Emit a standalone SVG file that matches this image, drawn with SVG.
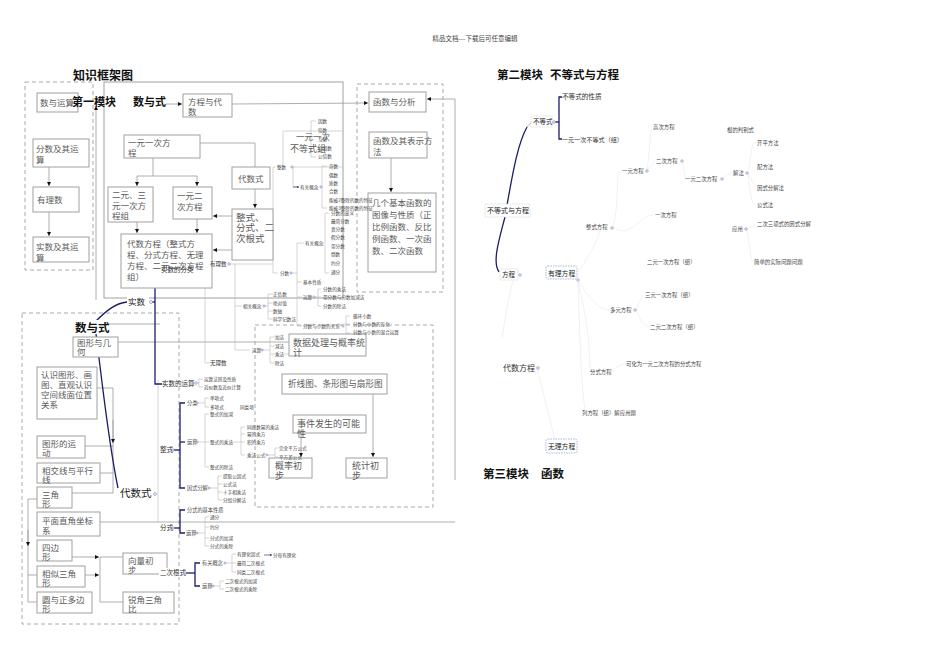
<svg xmlns="http://www.w3.org/2000/svg" width="950" height="672" viewBox="0 0 950 672">
<style>
text{font-family:"Noto Sans CJK SC","Noto Sans",sans-serif}
.bx{fill:#fff;stroke:#a0a0a0;stroke-width:1}
.db{fill:none;stroke:#aaa;stroke-width:1;stroke-dasharray:4 3}
.ln{stroke:#999;fill:none;stroke-width:0.8}
.lg{stroke:#bbb;fill:none;stroke-width:0.6}
.lf{stroke:#eee;fill:none;stroke-width:0.8}
.ar{marker-end:url(#ah)}
.sa{marker-end:url(#sm)}
.nv{stroke:#1c1c6b;fill:none;stroke-width:1.3}
.bt{font-size:8.5px;fill:#5a5a5a}
.sl{font-size:4.6px;fill:#444}
.ml{font-size:6.5px;fill:#333}
.rl{font-size:5.4px;fill:#444}
.h{font-weight:bold;fill:#111}
.ci{fill:#fff;stroke:#8888bb;stroke-width:0.7}
</style>
<defs>
<marker id="ah" viewBox="0 0 10 10" refX="10" refY="5" markerWidth="5" markerHeight="5" orient="auto"><path d="M0,0L10,5L0,10z" fill="#111"/></marker>
<marker id="sm" viewBox="0 0 10 10" refX="10" refY="5" markerWidth="3" markerHeight="3" orient="auto"><path d="M0,0L10,5L0,10z" fill="#1c1c6b"/></marker>
</defs>
<rect width="950" height="672" fill="#fff"/>
<text x="475" y="41" text-anchor="middle" style="font-size:6.5px;fill:#444">精品文档---下载后可任意编辑</text>
<text x="73" y="80" class="h" style="font-size:12px">知识框架图</text>

<!-- containers -->
<rect class="db" x="25" y="82" width="68" height="188"/>
<rect x="104" y="82" width="239" height="216" fill="none" stroke="#a0a0a0"/>
<rect class="db" x="357" y="84" width="86" height="208"/>
<rect class="db" x="255" y="325" width="178" height="182"/>
<rect class="db" x="22" y="313" width="157" height="311"/>

<g id="connectors">
<line class="ln ar" x1="49" y1="167" x2="49" y2="186"/>
<line class="ln ar" x1="49" y1="212" x2="49" y2="236"/>
<line class="ln ar" x1="96" y1="300" x2="96" y2="106"/>
<line class="ln ar" x1="166" y1="104" x2="182" y2="104"/>
<line class="ln ar" x1="232" y1="104" x2="368" y2="103"/>
<polyline class="ln" points="455,480 455,99"/>
<line class="ln ar" x1="455" y1="99" x2="427" y2="99"/>
<line class="ln ar" x1="391" y1="158" x2="391" y2="192"/>
<polyline class="ln" points="200,143 255,143 255,167"/>
<polyline class="ln" points="153,158 153,176"/>
<line class="ln" x1="137" y1="176" x2="197" y2="176"/>
<line class="ln ar" x1="137" y1="176" x2="137" y2="186"/>
<line class="ln ar" x1="197" y1="176" x2="197" y2="186"/>
<line class="ln ar" x1="137" y1="222" x2="137" y2="233"/>
<line class="ln ar" x1="197" y1="219" x2="197" y2="233"/>
<line class="ln ar" x1="255" y1="189" x2="255" y2="208"/>
<line class="ln ar" x1="232" y1="216" x2="213" y2="216"/>
<line class="ln ar" x1="232" y1="250" x2="213" y2="250"/>
<line class="ln ar" x1="373" y1="394" x2="373" y2="457"/>
<line class="ln ar" x1="301" y1="433" x2="301" y2="457"/>
<!-- geometry -->
<polyline class="ln" points="97,388 113,388 113,493 72,493"/>
<line class="ln ar" x1="113" y1="420" x2="113" y2="443"/>
<line class="ln" x1="85" y1="446" x2="113" y2="446"/>
<line class="ln" x1="100" y1="473" x2="113" y2="473"/>
<polyline class="ln" points="37,499 28,499 28,602 37,602"/>
<line class="ln ar" x1="28" y1="530" x2="28" y2="546"/>
<line class="ln" x1="28" y1="575" x2="37" y2="575"/>
<line class="ln ar" x1="72" y1="557" x2="99" y2="557"/>
<line class="ln ar" x1="85" y1="575" x2="99" y2="575"/>
<polyline class="ln" points="123,557 100,557 100,602 123,602"/>
<line class="ln" x1="106" y1="324" x2="160" y2="324"/>
<line class="ln" x1="118" y1="342" x2="289" y2="342"/>
<line class="ln" x1="100" y1="522" x2="455" y2="522"/>
<line class="lg" x1="158" y1="380" x2="158" y2="522"/>
<!-- mind map 数与式 -->
<path class="nv" d="M95,322 C105,312 115,303 127,302" stroke-width="1.2"/>
<path class="nv" d="M96,334 C102,380 108,440 118,488" stroke-width="2"/>
<polyline class="nv" points="152,302 155,302"/>
<polyline class="nv" points="160,269 155,269 155,384 162,384" stroke-width="1.2"/>
<polyline class="lg" points="200,268 205,268 205,363 210,363"/>
<line class="lg" x1="205" y1="264" x2="210" y2="264"/>
<polyline class="lg" points="229,264 235,264 235,350 250,350"/>
<line class="lg" x1="235" y1="306" x2="242" y2="306"/>
<polyline class="lg" points="235,264 273,264"/>
<polyline class="lg" points="276,167 273,167 273,273 278,273"/>
<polyline class="lg" points="264,306 268,306"/>
<polyline class="lg" points="273,294 268,294 268,319 273,319"/>
<line class="lg" x1="268" y1="303" x2="273" y2="303"/>
<line class="lg" x1="268" y1="311" x2="273" y2="311"/>
<polyline class="lg" points="275,337 270,337 270,363 275,363"/>
<line class="lg" x1="262" y1="350" x2="270" y2="350"/>
<line class="lg" x1="270" y1="346" x2="275" y2="346"/>
<line class="lg" x1="270" y1="354" x2="275" y2="354"/>
<line class="lg" x1="283" y1="354" x2="289" y2="354"/>
<polyline class="lg" points="203,379 199,379 199,387 203,387"/>
<line class="lg" x1="196" y1="383" x2="199" y2="383"/>
<!-- 整数 -->
<polyline class="lg" points="283,167 283,131 343,131"/>
<line class="lg" x1="293" y1="167" x2="343" y2="167"/>
<polyline class="lg" points="293,167 293,187 298,187"/>
<polyline class="lg" points="316,121 311,121 311,157 316,157"/>
<polyline class="lg" points="327,166 322,166 322,208 327,208"/>
<polyline class="lg" points="329,213 325,213 325,273 329,273"/>
<!-- 分数 -->
<polyline class="lg" points="292,273 297,273"/>
<polyline class="lg" points="304,243 297,243 297,326 302,326"/>
<line class="lg" x1="297" y1="282" x2="302" y2="282"/>
<line class="lg" x1="297" y1="297" x2="302" y2="297"/>
<polyline class="lg" points="321,289 318,289 318,306 321,306"/>
<line class="lg" x1="314" y1="297" x2="321" y2="297"/>
<polyline class="lg" points="350,316 346,316 346,333 350,333"/>
<line class="lg" x1="343" y1="324" x2="350" y2="324"/>
<!-- 整式 -->
<polyline class="nv" points="185,403 180,403 180,488 185,488" stroke-width="1.1"/>
<line class="nv" x1="171" y1="450" x2="180" y2="450" stroke-width="1.1"/>
<line class="nv" x1="180" y1="442" x2="185" y2="442" stroke-width="1.1"/>
<polyline class="lg" points="209,398 205,398 205,407 209,407"/>
<line class="lg" x1="197" y1="403" x2="205" y2="403"/>
<polyline class="lg" points="209,414 205,414 205,467 209,467"/>
<line class="lg" x1="197" y1="442" x2="209" y2="442"/>
<polyline class="lg" points="245,427 241,427 241,455 245,455"/>
<line class="lg" x1="241" y1="434" x2="245" y2="434"/>
<line class="lg" x1="229" y1="442" x2="245" y2="442"/>
<polyline class="lg" points="278,448 275,448 275,457 278,457"/>
<line class="lg" x1="267" y1="455" x2="275" y2="455"/>
<polyline class="lg" points="222,476 218,476 218,500 222,500"/>
<line class="lg" x1="210" y1="488" x2="218" y2="488"/>
<line class="lg" x1="218" y1="484" x2="222" y2="484"/>
<line class="lg" x1="218" y1="492" x2="222" y2="492"/>
<!-- 分式 -->
<polyline class="nv" points="185,510 180,510 180,533 185,533" stroke-width="1.1"/>
<line class="nv" x1="171" y1="528" x2="180" y2="528" stroke-width="1.1"/>
<polyline class="lg" points="209,517 205,517 205,546 209,546"/>
<line class="lg" x1="197" y1="533" x2="205" y2="533"/>
<line class="lg" x1="205" y1="527" x2="209" y2="527"/>
<line class="lg" x1="205" y1="538" x2="209" y2="538"/>
<!-- 二次根式 -->
<polyline class="nv" points="200,563 195,563 195,586 200,586" stroke-width="1.1"/>
<line class="nv" x1="184" y1="573" x2="195" y2="573" stroke-width="1.1"/>
<polyline class="lg" points="236,554 232,554 232,572 236,572"/>
<line class="lg" x1="226" y1="563" x2="236" y2="563"/>
<polyline class="lg" points="224,581 220,581 220,589 224,589"/>
<line class="lg" x1="213" y1="586" x2="220" y2="586"/>
<!-- right side -->
<path class="nv" d="M507,205 C512,178 517,145 527,127" stroke-width="2"/>
<path d="M527,127 C529,124 531,123 533,122" stroke="#aab" fill="none" stroke-width="0.8"/>
<path class="nv" d="M505,217 C499,240 492,262 499,272" stroke-width="1.2"/>
<polyline class="nv" points="554,122 559,122"/>
<polyline class="nv" points="562,97 559,97 559,139 562,139" stroke-width="1.5"/>
<path class="lf" d="M613,227 C620,200 615,175 620,171"/>
<path class="lf" d="M613,227 C630,240 640,215 653,215"/>
<path class="lf" d="M647,171 C650,150 650,130 652,127"/>
<path class="lf" d="M647,171 L655,161"/>
<path class="lf" d="M682,161 C685,170 685,179 685,179"/>
<path class="lf" d="M723,179 C728,175 730,173 732,173"/>
<path class="lf" d="M748,173 C752,150 752,140 756,143"/>
<path class="lf" d="M748,173 L756,188"/>
<path class="lf" d="M748,173 C750,195 752,205 756,205"/>
<path class="lf" d="M747,229 L756,224"/>
<path class="lf" d="M747,229 C750,245 750,260 753,262"/>
<path class="lf" d="M578,272 C590,255 598,240 600,230"/>
<path class="lf" d="M578,280 C590,300 600,310 609,310"/>
<path class="lf" d="M636,310 C640,300 642,296 645,295"/>
<path class="lf" d="M636,310 C640,320 645,327 650,327"/>
<path class="lf" d="M578,282 C590,330 590,360 590,372"/>
<path class="lf" d="M612,372 C618,365 622,364 626,364"/>
<path class="lf" d="M578,282 C580,350 582,390 585,410"/>
<path class="lf" d="M513,280 C508,300 505,320 502,338"/>
<path class="lf" d="M537,368 C545,400 550,420 555,440"/>
</g>

<!-- nodes: left dashed column -->
<g id="n-shuyuyunsuan"><rect class="bx" x="37" y="93" width="41" height="19"/><text class="bt" x="40" y="106">数与运算</text></g>
<g id="n-fenshu"><rect class="bx" x="33" y="139" width="56" height="28"/><text class="bt" x="36" y="152">分数及其运</text><text class="bt" x="36" y="163">算</text></g>
<g id="n-youlishu"><rect class="bx" x="33" y="187" width="46" height="25"/><text class="bt" x="37" y="203">有理数</text></g>
<g id="n-shishu"><rect class="bx" x="33" y="237" width="56" height="25"/><text class="bt" x="36" y="250">实数及其运</text><text class="bt" x="36" y="261">算</text></g>

<g id="t-mod1"><text x="72" y="106" class="h" style="font-size:11px">第一模块</text><text x="133" y="106" class="h" style="font-size:11px">数与式</text></g>

<g id="n-fangcheng-daishu"><rect class="bx" x="183" y="94" width="49" height="23"/><text class="bt" x="188" y="105">方程与代</text><text class="bt" x="188" y="115">数</text></g>
<g id="n-yiyuanyici"><rect class="bx" x="124" y="135" width="76" height="23"/><text class="bt" x="128" y="146">一元一次方</text><text class="bt" x="128" y="156">程</text></g>
<g id="n-eryuansanyuan"><rect class="bx" x="108" y="187" width="45" height="35"/><text class="bt" x="112" y="198">二元、三</text><text class="bt" x="112" y="209">元一次方</text><text class="bt" x="112" y="219">程组</text></g>
<g id="n-yiyuanerci"><rect class="bx" x="173" y="187" width="39" height="32"/><text class="bt" x="177" y="199">一元二</text><text class="bt" x="177" y="210">次方程</text></g>
<g id="n-daishufangcheng"><rect class="bx" x="121" y="234" width="91" height="54"/><text class="bt" x="127" y="247">代数方程（整式方</text><text class="bt" x="127" y="258">程、分式方程、无理</text><text class="bt" x="127" y="269">方程、二元二次方程</text><text class="bt" x="127" y="280">组）</text></g>
<g id="n-daishushi"><rect class="bx" x="232" y="167" width="38" height="22"/><text class="bt" x="238" y="182">代数式</text></g>
<g id="n-zhengshi"><rect class="bx" x="232" y="209" width="41" height="51"/><text class="bt" x="236" y="221" style="font-size:9.5px">整式、</text><text class="bt" x="236" y="231" style="font-size:9.5px">分式、二</text><text class="bt" x="236" y="242" style="font-size:9.5px">次根式</text></g>
<g id="n-budengshizu"><text class="bt" x="296" y="140" style="font-size:8.5px">一元一次</text><text class="bt" x="290" y="152" style="font-size:9px">不等式组</text></g>

<g id="n-hanshu-fenxi"><rect class="bx" x="369" y="92" width="57" height="20"/><text class="bt" x="373" y="105">函数与分析</text></g>
<g id="n-hanshu-biaoshi"><rect class="bx" x="369" y="132" width="58" height="26"/><text class="bt" x="373" y="144">函数及其表示方</text><text class="bt" x="373" y="155">法</text></g>
<g id="n-jibenhanshu"><rect class="bx" x="368" y="193" width="68" height="79"/><text class="bt" x="372" y="206">几个基本函数的</text><text class="bt" x="372" y="218">图像与性质（正</text><text class="bt" x="372" y="230">比例函数、反比</text><text class="bt" x="372" y="242">例函数、一次函</text><text class="bt" x="372" y="254">数、二次函数</text></g>

<!-- data dashed area -->
<g id="n-shuju"><rect class="bx" x="289" y="334" width="77" height="22"/><text class="bt" x="293" y="346" style="font-size:9px">数据处理与概率统</text><text class="bt" x="293" y="356" style="font-size:9px">计</text></g>
<g id="n-zhexian"><rect class="bx" x="282" y="374" width="105" height="20"/><text class="bt" x="288" y="387" style="font-size:8.6px">折线图、条形图与扇形图</text></g>
<g id="n-shijian"><rect class="bx" x="293" y="415" width="73" height="18"/><text class="bt" x="297" y="427" style="font-size:9px">事件发生的可能</text><text class="bt" x="297" y="437" style="font-size:9px">性</text></g>
<g id="n-gailv"><rect class="bx" x="269" y="458" width="43" height="20"/><text class="bt" x="275" y="469" style="font-size:9px">概率初</text><text class="bt" x="275" y="479" style="font-size:9px">步</text></g>
<g id="n-tongji"><rect class="bx" x="346" y="458" width="41" height="20"/><text class="bt" x="352" y="469" style="font-size:9px">统计初</text><text class="bt" x="352" y="479" style="font-size:9px">步</text></g>

<!-- geometry -->
<g id="n-tuxing"><rect class="bx" x="73" y="337" width="45" height="20"/><text class="bt" x="77" y="346">图形与几</text><text class="bt" x="77" y="355">何</text></g>
<g id="n-renshi"><rect class="bx" x="37" y="367" width="60" height="52"/><text class="bt" x="41" y="378">认识图形、画</text><text class="bt" x="41" y="388">图、直观认识</text><text class="bt" x="41" y="398">空间线面位置</text><text class="bt" x="41" y="408">关系</text></g>
<g id="n-yundong"><rect class="bx" x="37" y="436" width="48" height="22"/><text class="bt" x="42" y="447">图形的运</text><text class="bt" x="42" y="456">动</text></g>
<g id="n-xiangjiao"><rect class="bx" x="37" y="463" width="63" height="20"/><text class="bt" x="42" y="474">相交线与平行</text><text class="bt" x="42" y="483">线</text></g>
<g id="n-sanjiao"><rect class="bx" x="37" y="487" width="35" height="21"/><text class="bt" x="42" y="498">三角</text><text class="bt" x="42" y="507">形</text></g>
<g id="n-zuobiao"><rect class="bx" x="37" y="512" width="63" height="24"/><text class="bt" x="42" y="524">平面直角坐标</text><text class="bt" x="42" y="534">系</text></g>
<g id="n-sibian"><rect class="bx" x="37" y="540" width="35" height="21"/><text class="bt" x="42" y="551">四边</text><text class="bt" x="42" y="560">形</text></g>
<g id="n-xiangsi"><rect class="bx" x="37" y="566" width="48" height="21"/><text class="bt" x="42" y="577">相似三角</text><text class="bt" x="42" y="586">形</text></g>
<g id="n-yuan"><rect class="bx" x="37" y="592" width="55" height="21"/><text class="bt" x="42" y="603">圆与正多边</text><text class="bt" x="42" y="612">形</text></g>
<g id="n-xiangliang"><rect class="bx" x="123" y="553" width="44" height="21"/><text class="bt" x="128" y="564">向量初</text><text class="bt" x="128" y="573">步</text></g>
<g id="n-ruijiao"><rect class="bx" x="123" y="592" width="51" height="21"/><text class="bt" x="128" y="603">锐角三角</text><text class="bt" x="128" y="612">比</text></g>

<!-- mind map 数与式 nodes -->
<g id="m-shuyushi"><rect x="74" y="320" width="34" height="14" fill="#fff"/><text x="75" y="332" class="h" style="font-size:11.5px">数与式</text></g>
<g id="m-shishu"><rect x="127" y="296" width="22" height="11" fill="#fff"/><text x="128" y="305" style="font-size:8.5px;fill:#222">实数</text><circle class="ci" cx="151" cy="302" r="1.5"/></g>
<g id="m-shishufenlei"><text x="161" y="272" class="ml">实数的分类</text><circle class="ci" cx="199" cy="268" r="1.3"/></g>
<g id="m-shishuyunsuan"><text x="162" y="386" class="ml">实数的运算</text><circle class="ci" cx="196" cy="383" r="1.3"/></g>
<g id="m-youli"><text x="210" y="266" style="font-size:5.5px;fill:#333">有理数</text><circle class="ci" cx="229" cy="264" r="1.2"/></g>
<g id="m-wuli"><text x="210" y="365" style="font-size:5.5px;fill:#333">无理数</text></g>
<g id="m-yunsuanfaze"><text x="204" y="381" class="sl">运算法则及性质</text><text x="204" y="389" class="sl">近似数及近似计算</text></g>
<g id="m-xiangguan"><text x="243" y="308" class="sl">相关概念</text><circle class="ci" cx="264" cy="306" r="1.1"/><text x="273" y="296" class="sl">正负数</text><text x="273" y="305" class="sl">绝对值</text><text x="273" y="313" class="sl">数轴</text><text x="273" y="321" class="sl">科学记数法</text></g>
<g id="m-yunsuan1"><text x="252" y="352" class="sl">运算</text><circle class="ci" cx="262" cy="350" r="1.1"/><text x="275" y="339" class="sl">加法</text><text x="275" y="348" class="sl">减法</text><text x="275" y="356" class="sl">乘法</text><text x="275" y="365" class="sl">除法</text></g>
<g id="m-zhengshu"><text x="277" y="169" class="sl">整数</text><circle class="ci" cx="292" cy="167" r="1.1"/>
<line class="sa" x1="293" y1="187" x2="299" y2="187" stroke="#1c1c6b" stroke-width="0.6"/><text x="300" y="189" class="sl">有关概念</text><circle class="ci" cx="321" cy="187" r="1.1"/>
<text x="318" y="123" class="sl">因数</text><text x="318" y="132" class="sl">倍数</text><text x="318" y="141" class="sl">互质</text><text x="318" y="150" class="sl">公因数</text><text x="318" y="158" class="sl">公倍数</text>
<text x="329" y="168" class="sl">奇数</text><text x="329" y="177" class="sl">偶数</text><text x="329" y="185" class="sl">质数</text><text x="329" y="193" class="sl">合数</text><text x="329" y="202" class="sl">能被2整除的数的特征</text><text x="329" y="210" class="sl">能被3整除的数的特征</text></g>
<g id="m-fenshu"><text x="280" y="275" class="sl">分数</text><circle class="ci" cx="291" cy="273" r="1.1"/>
<text x="305" y="245" class="sl">有关概念</text><text x="303" y="284" class="sl">基本性质</text><text x="303" y="299" class="sl">运算</text><circle class="ci" cx="314" cy="297" r="1.1"/><text x="303" y="328" class="sl">分数与小数的关系</text><circle class="ci" cx="343" cy="326" r="1.1"/>
<text x="331" y="215" class="sl">分数的意义</text><text x="331" y="223" class="sl">最简分数</text><text x="331" y="231" class="sl">真分数</text><text x="331" y="239" class="sl">假分数</text><text x="331" y="248" class="sl">带分数</text><text x="331" y="256" class="sl">倒数</text><text x="331" y="265" class="sl">约分</text><text x="331" y="274" class="sl">通分</text>
<text x="323" y="291" class="sl">分数的乘法</text><text x="323" y="299" class="sl">带分数与分数加减法</text><text x="323" y="308" class="sl">分数的除法</text>
<text x="353" y="318" class="sl">循环小数</text><text x="353" y="326" class="sl">分数与小数的互化</text><text x="353" y="334" class="sl">分数与小数的混合运算</text></g>

<g id="m-daishushi"><text x="120" y="497" style="font-size:10.5px;fill:#222">代数式</text><circle class="ci" cx="155" cy="494" r="1.4"/></g>
<g id="m-zhengshi"><rect x="159" y="445" width="12" height="9" fill="#fff"/><text x="160" y="452" class="ml">整式</text><circle class="ci" cx="173" cy="450" r="1.2"/>
<text x="187" y="405" class="sl" style="font-size:5.2px">分类</text><circle class="ci" cx="197" cy="403" r="1"/>
<text x="187" y="444" class="sl" style="font-size:5.2px">运算</text><circle class="ci" cx="197" cy="442" r="1"/>
<text x="187" y="490" class="sl" style="font-size:5.2px">因式分解</text><circle class="ci" cx="209" cy="488" r="1"/>
<text x="210" y="400" class="sl">单项式</text><text x="210" y="409" class="sl">多项式</text><text x="240" y="409" class="sl">同类项</text>
<text x="210" y="416" class="sl">整式的加减</text><text x="210" y="444" class="sl">整式的乘法</text><text x="210" y="469" class="sl">整式的除法</text>
<text x="247" y="429" class="sl">同底数幂的乘法</text><text x="247" y="436" class="sl">幂的乘方</text><text x="247" y="444" class="sl">积的乘方</text><text x="247" y="457" class="sl">乘法公式</text><circle class="ci" cx="267" cy="455" r="1"/>
<text x="279" y="450" class="sl">完全平方公式</text><text x="279" y="459" class="sl">平方差公式</text>
<text x="223" y="478" class="sl">提取公因式</text><text x="223" y="486" class="sl">公式法</text><text x="223" y="494" class="sl">十字相乘法</text><text x="223" y="502" class="sl">分组分解法</text></g>
<g id="m-fenshi"><rect x="159" y="523" width="12" height="9" fill="#fff"/><text x="160" y="530" class="ml">分式</text><circle class="ci" cx="173" cy="528" r="1.2"/>
<text x="187" y="512" class="sl" style="font-size:5.2px">分式的基本性质</text><text x="186" y="535" class="sl" style="font-size:5.2px">运算</text><circle class="ci" cx="197" cy="533" r="1"/>
<text x="210" y="519" class="sl">通分</text><text x="210" y="529" class="sl">约分</text><text x="210" y="540" class="sl">分式的加减</text><text x="210" y="548" class="sl">分式的乘除</text></g>
<g id="m-ercigenshi"><rect x="159" y="568" width="24" height="9" fill="#fff"/><text x="160" y="575" class="ml">二次根式</text><circle class="ci" cx="185" cy="573" r="1.2"/>
<text x="202" y="565" class="sl" style="font-size:5.2px">有关概念</text><circle class="ci" cx="225" cy="563" r="1"/><text x="202" y="588" class="sl" style="font-size:5.2px">运算</text><circle class="ci" cx="213" cy="586" r="1"/>
<text x="237" y="556" class="sl">有理化因式</text><line class="sa" x1="264" y1="555" x2="272" y2="555" stroke="#1c1c6b" stroke-width="0.6"/><text x="273" y="557" class="sl">分母有理化</text>
<text x="237" y="565" class="sl">最简二次根式</text><text x="237" y="574" class="sl">同类二次根式</text>
<text x="225" y="583" class="sl">二次根式的加减</text><text x="225" y="591" class="sl">二次根式的乘除</text></g>

<!-- right: module 2 -->
<g id="t-mod2"><text x="497" y="79" class="h" style="font-size:11.5px">第二模块</text><text x="550" y="79" class="h" style="font-size:11.5px">不等式与方程</text></g>
<g id="r-bdsyfc"><rect x="485" y="204" width="45" height="13" fill="#fff" stroke="#ddd" stroke-width="0.6"/><text x="487" y="213" style="font-size:7px;fill:#222">不等式与方程</text></g>
<g id="r-bds"><rect x="531" y="116" width="21" height="11" fill="#fff" stroke="#ddd" stroke-width="0.6"/><text x="533" y="124" style="font-size:6.5px;fill:#222">不等式</text><circle class="ci" cx="554" cy="122" r="1.3"/></g>
<g id="r-bdsxz"><text x="562" y="99" style="font-size:6.6px;fill:#333">不等式的性质</text></g>
<g id="r-yyycbds"><text x="562" y="142" style="font-size:6.1px;fill:#333">一元一次不等式（组）</text></g>
<g id="r-fc"><rect x="500" y="269" width="18" height="11" fill="#fff" stroke="#ddd" stroke-width="0.6"/><text x="502" y="277" style="font-size:6.5px;fill:#222">方程</text><circle class="ci" cx="520" cy="275" r="1.3"/></g>
<g id="r-ylfc"><rect x="546" y="266" width="31" height="13" rx="2" fill="#fff" stroke="#88aadd" stroke-width="0.8" stroke-dasharray="1.5 1"/><text x="548" y="275.5" style="font-size:6.8px;fill:#222">有理方程</text><circle class="ci" cx="578" cy="280" r="1.2"/></g>
<g id="r-wlfc"><rect x="546" y="439" width="31" height="14" rx="2" fill="#fff" stroke="#88aadd" stroke-width="0.8" stroke-dasharray="1.5 1"/><text x="548" y="449" style="font-size:6.8px;fill:#222">无理方程</text></g>
<g id="r-dsfc"><text x="503" y="371" style="font-size:8px;fill:#333">代数方程</text><circle class="ci" cx="538" cy="368" r="1.3"/></g>
<g id="r-zsfc"><text x="586" y="229" class="rl">整式方程</text><circle class="ci" cx="612" cy="228" r="1.2"/></g>
<g id="r-yyfc"><text x="622" y="173" class="rl">一元方程</text><circle class="ci" cx="647" cy="171" r="1.2"/></g>
<g id="r-gcfc"><text x="653" y="129" class="rl">高次方程</text></g>
<g id="r-ecfc"><text x="656" y="163" class="rl">二次方程</text><circle class="ci" cx="682" cy="161" r="1.2"/></g>
<g id="r-yycfc"><text x="685" y="181" class="rl">一元二次方程</text><circle class="ci" cx="722" cy="179" r="1.2"/></g>
<g id="r-ycfc"><text x="655" y="217" class="rl">一次方程</text></g>
<g id="r-gdpbs"><text x="727" y="132" class="rl">根的判别式</text></g>
<g id="r-jf"><text x="733" y="175" class="rl">解法</text><circle class="ci" cx="747" cy="173" r="1.2"/></g>
<g id="r-kpff"><text x="757" y="145" class="rl">开平方法</text></g>
<g id="r-pff"><text x="757" y="169" class="rl">配方法</text></g>
<g id="r-ysfjf"><text x="757" y="190" class="rl">因式分解法</text></g>
<g id="r-gsf"><text x="757" y="207" class="rl">公式法</text></g>
<g id="r-yy"><text x="732" y="231" class="rl">应用</text><circle class="ci" cx="746" cy="229" r="1.2"/></g>
<g id="r-ecsx"><text x="757" y="226" class="rl">二次三项式的因式分解</text></g>
<g id="r-eyyc"><text x="647" y="264" class="rl">二元一次方程（组）</text></g>
<g id="r-jdsj"><text x="754" y="264" class="rl">简单的实际问题问题</text></g>
<g id="r-syyc"><text x="645" y="297" class="rl">三元一次方程（组）</text></g>
<g id="r-dyfc"><text x="610" y="312" class="rl">多元方程</text><circle class="ci" cx="635" cy="310" r="1.2"/></g>
<g id="r-eyec"><text x="650" y="329" class="rl">二元二次方程（组）</text></g>
<g id="r-fsfc"><text x="590" y="374" class="rl">分式方程</text></g>
<g id="r-khw"><text x="626" y="366" class="rl">可化为一元二次方程的分式方程</text></g>
<g id="r-lfc"><text x="582" y="415" class="rl">列方程（组）解应用题</text></g>
<g id="t-mod3"><text x="483" y="478" class="h" style="font-size:11.5px">第三模块</text><text x="541" y="478" class="h" style="font-size:11.5px">函数</text></g>
</svg>
